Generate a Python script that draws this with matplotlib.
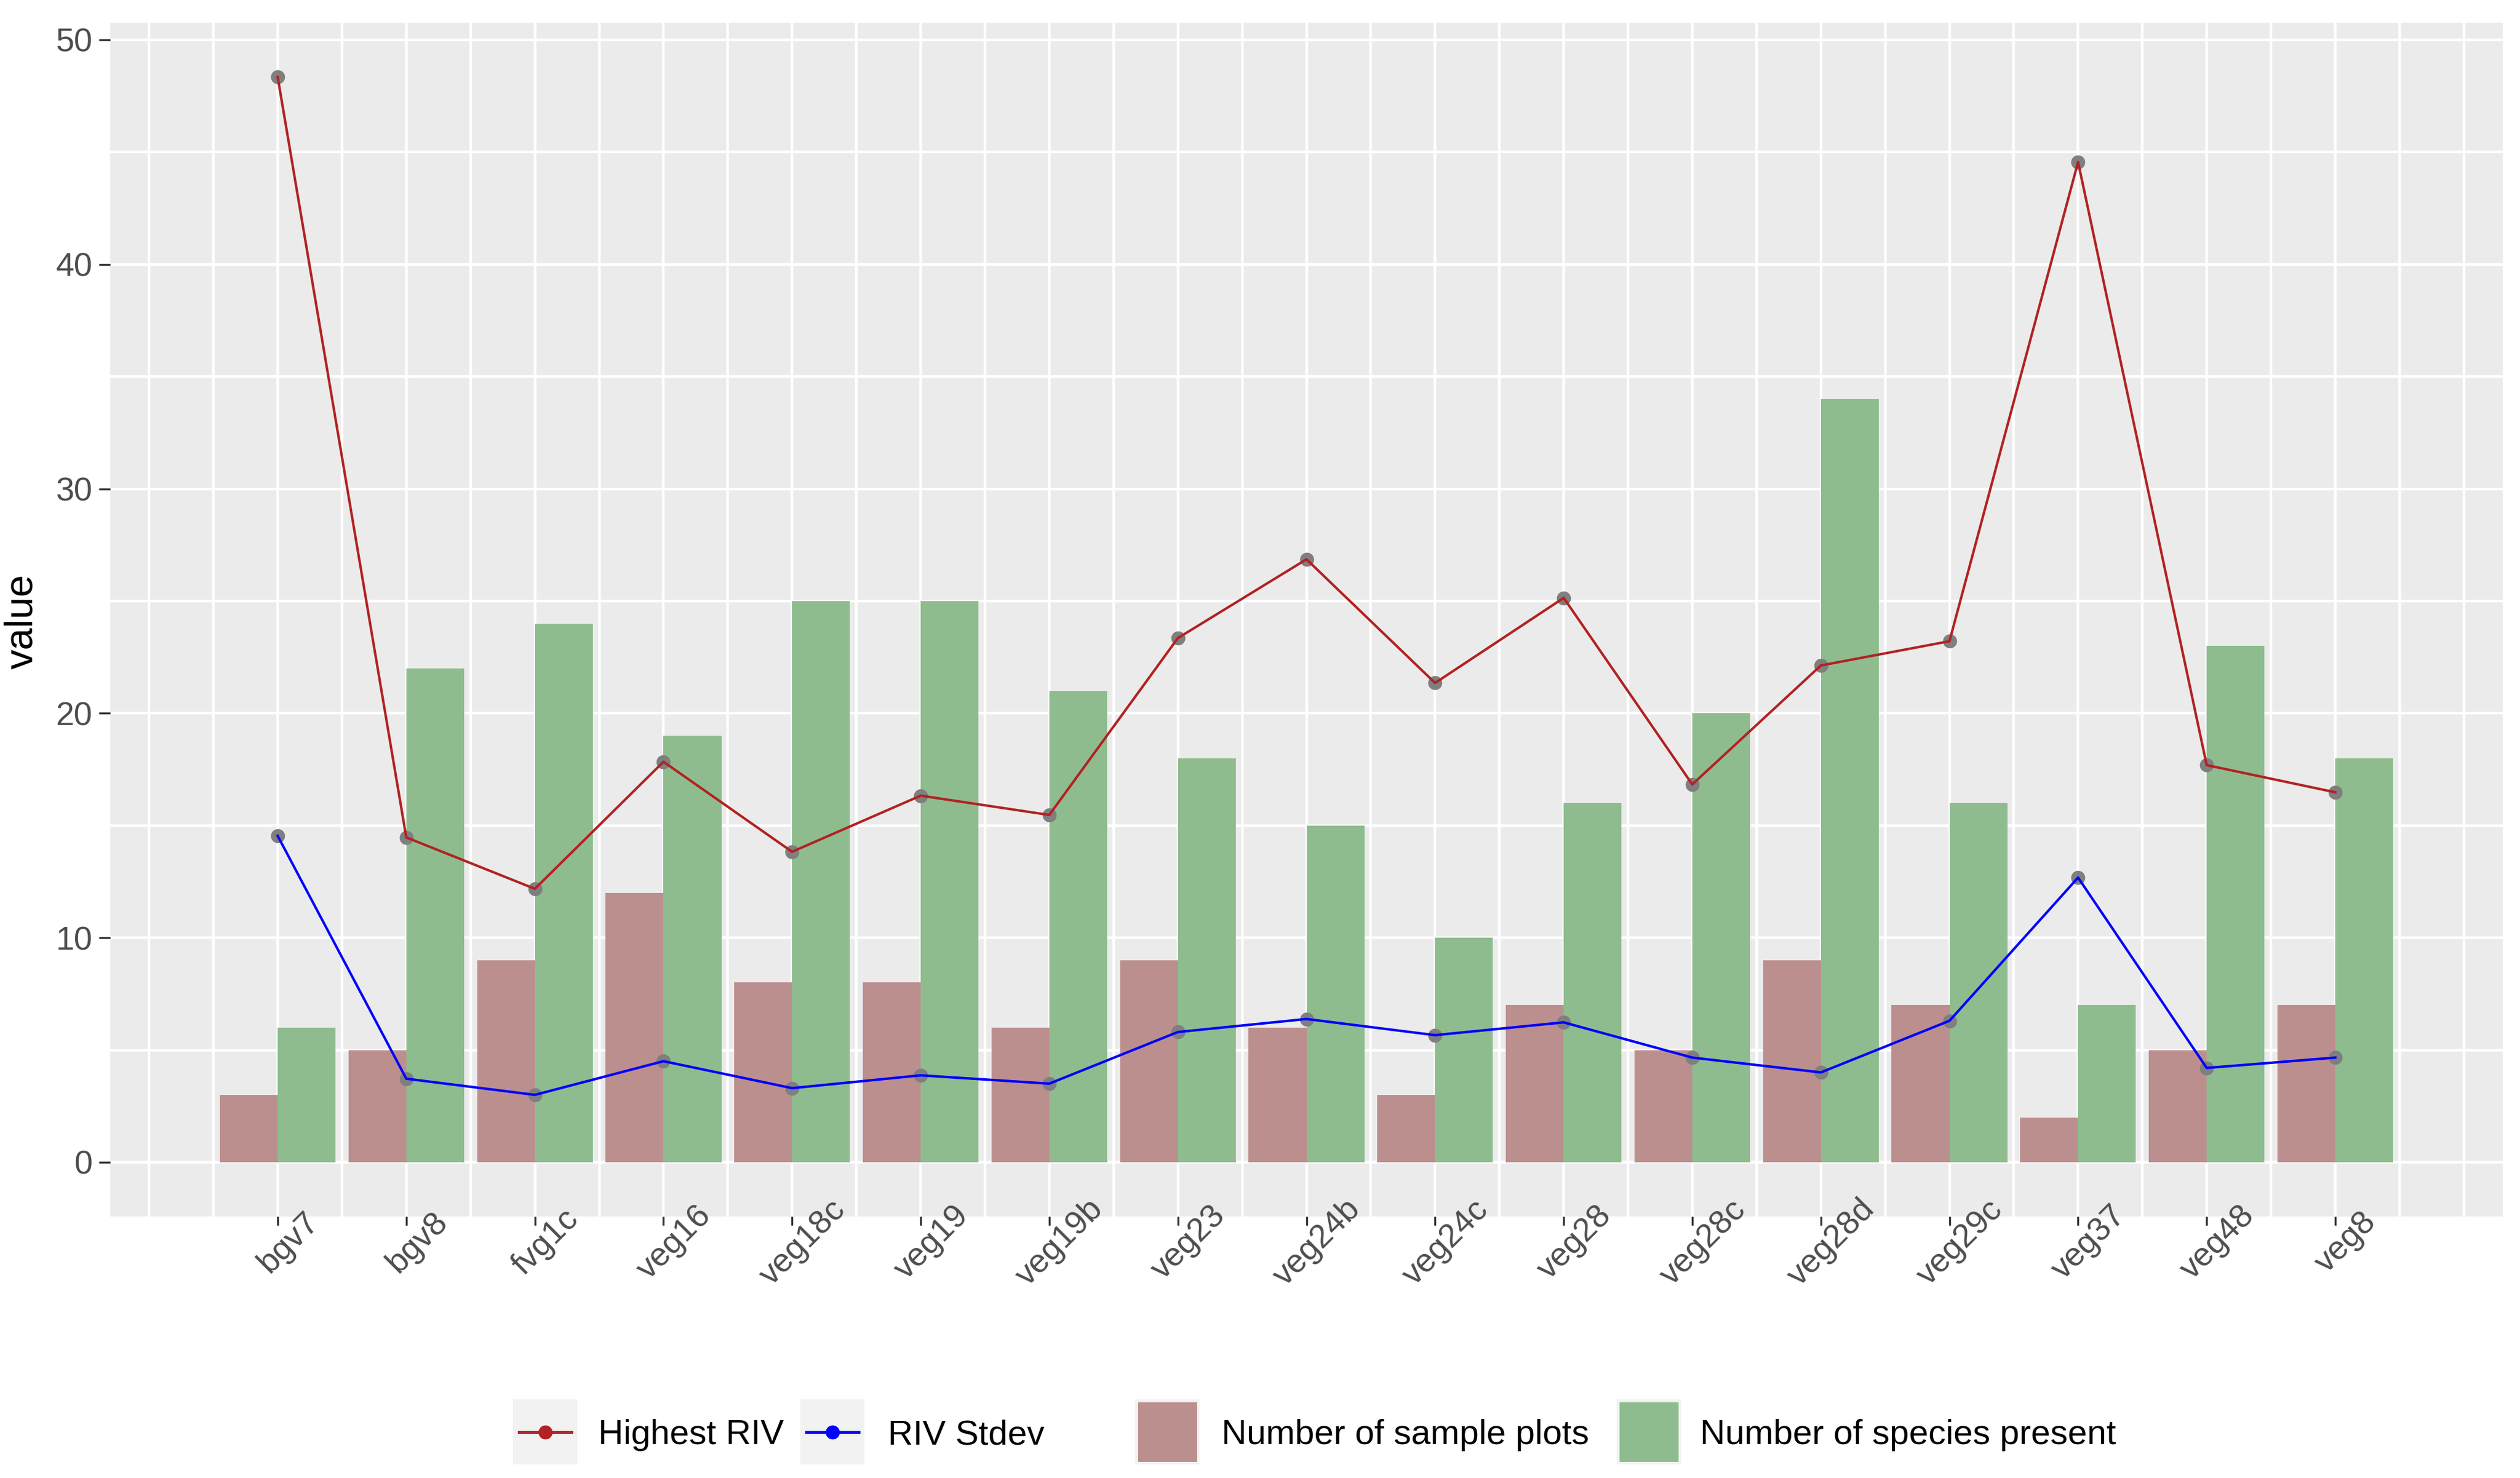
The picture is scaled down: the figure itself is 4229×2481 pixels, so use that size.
import matplotlib
matplotlib.use("Agg")
import matplotlib.pyplot as plt
from matplotlib.ticker import MultipleLocator, FixedLocator
from matplotlib.patches import Rectangle
from matplotlib.lines import Line2D
import numpy as np

plt.rcParams['font.family'] = ['Liberation Sans', 'DejaVu Sans']

sites = ["bgv7", "bgv8", "fvg1c", "veg16", "veg18c", "veg19", "veg19b", "veg23", "veg24b",
         "veg24c", "veg28", "veg28c", "veg28d", "veg29c", "veg37", "veg48", "veg8"]
sample_plots = [3, 5, 9, 12, 8, 8, 6, 9, 6, 3, 7, 5, 9, 7, 2, 5, 7]
species_present = [6, 22, 24, 19, 25, 25, 21, 18, 15, 10, 16, 20, 34, 16, 7, 23, 18]
highest_riv = [48.35, 14.47, 12.18, 17.84, 13.83, 16.33, 15.47, 23.35, 26.86, 21.35, 25.14,
               16.83, 22.13, 23.21, 44.56, 17.69, 16.48]
riv_stdev = [14.54, 3.72, 3.0, 4.5, 3.3, 3.87, 3.5, 5.8, 6.38, 5.66, 6.23, 4.66, 4.0, 6.3,
             12.68, 4.2, 4.66]

W, H = 4229, 2481
DPI = 100
fig = plt.figure(figsize=(W / DPI, H / DPI), dpi=DPI)

def fx(px):
    return px / W

def fy(py):
    return 1 - py / H

left, right, top, bottom = 185, 4200, 38, 2042
ax = fig.add_axes([fx(left), fy(bottom), fx(right) - fx(left), fy(top) - fy(bottom)])
ax.set_facecolor('#EBEBEB')
for s in ax.spines.values():
    s.set_visible(False)

x = np.arange(1, len(sites) + 1)
bw = 0.45
ax.bar(x - bw / 2, sample_plots, width=bw, color='#BC8F8F', zorder=2, linewidth=0)
ax.bar(x + bw / 2, species_present, width=bw, color='#8FBC8F', zorder=2, linewidth=0)

ax.plot(x, highest_riv, ls='none', marker='o', ms=17, color='#7F7F7F', mew=0, zorder=3)
ax.plot(x, riv_stdev, ls='none', marker='o', ms=17, color='#7F7F7F', mew=0, zorder=3)
ax.plot(x, highest_riv, color='#B22222', lw=3, zorder=4)
ax.plot(x, riv_stdev, color='#0000FF', lw=3, zorder=4)

ax.set_xlim(1 - 1.302, len(sites) + 1.302)
ymax = max(highest_riv)
ax.set_ylim(-0.05 * ymax, ymax * 1.05)

ax.set_xticks(x)
ax.set_xticklabels(sites)
ax.xaxis.set_minor_locator(FixedLocator(np.arange(0, len(sites) + 1.5, 0.5)))
ax.yaxis.set_major_locator(MultipleLocator(10))
ax.yaxis.set_minor_locator(MultipleLocator(5))

ax.grid(which='both', color='white', linewidth=3.2, zorder=0)
ax.set_axisbelow(True)

ax.tick_params(axis='both', which='minor', length=0)
ax.tick_params(axis='y', which='major', length=13.5, width=2.4, color='#333333',
               labelsize=40, labelcolor='#4D4D4D', pad=8)
ax.tick_params(axis='x', which='major', length=10.5, width=2.4, color='#333333',
               labelsize=40, labelcolor='#4D4D4D', pad=8)
for lbl in ax.get_xticklabels():
    lbl.set_rotation(45)
    lbl.set_ha('center')
    lbl.set_va('top')
    lbl.set_rotation_mode('anchor')

fig.text(fx(37), fy(1043), 'value', rotation=90, ha='center', va='center', fontsize=48,
         color='black')

# legend
key_top, key_bot = 2349, 2458
key_cy = (key_top + key_bot) / 2
line_keys = [(861, 1004, 'Highest RIV', '#B22222'), (1343, 1490, 'RIV Stdev', '#0000FF')]
fill_keys = [(1905, 2050, 'Number of sample plots', '#BC8F8F'),
             (2713, 2853, 'Number of species present', '#8FBC8F')]
kw = 108
for kx, tx, label, col in line_keys:
    fig.patches.append(Rectangle((fx(kx), fy(key_bot)), fx(kw), (key_bot - key_top) / H,
                                 transform=fig.transFigure, facecolor='#F2F2F2', edgecolor='none'))
    fig.lines.append(Line2D([fx(kx + 10), fx(kx + kw - 10)], [fy(key_cy), fy(key_cy)],
                            transform=fig.transFigure, color=col, lw=3.5))
    fig.lines.append(Line2D([fx(kx + kw / 2)], [fy(key_cy)], transform=fig.transFigure,
                            color=col, ls='none', marker='o', ms=17, mew=0))
    fig.text(fx(tx), fy(key_cy), label, ha='left', va='center_baseline', fontsize=42, color='black')
for kx, tx, label, col in fill_keys:
    fig.patches.append(Rectangle((fx(kx), fy(key_bot)), fx(kw), (key_bot - key_top) / H,
                                 transform=fig.transFigure, facecolor='#F2F2F2', edgecolor='none'))
    fig.patches.append(Rectangle((fx(kx + 4.5), fy(key_bot - 4.5)), fx(kw - 9),
                                 (key_bot - key_top - 9) / H,
                                 transform=fig.transFigure, facecolor=col, edgecolor='none'))
    fig.text(fx(tx), fy(key_cy), label, ha='left', va='center_baseline', fontsize=42, color='black')

fig.savefig('out.png', dpi=DPI, facecolor='white')
